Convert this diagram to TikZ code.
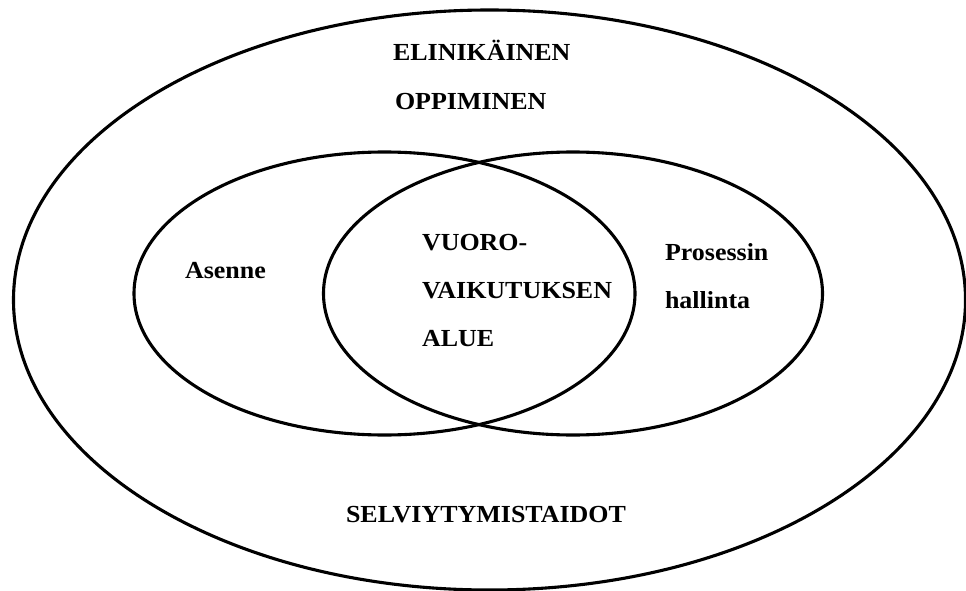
\documentclass[tikz,border=0pt]{standalone}
\usepackage{fontspec}
\newfontfamily\labfont[FakeStretch=1.06]{Liberation Serif}
\begin{document}
\begin{tikzpicture}[x=1pt,y=-1pt,
  ring/.style={draw=black,line width=3.1pt},
  lbl/.style={anchor=base west,inner sep=0pt,outer sep=0pt,
    font=\labfont\bfseries\fontsize{24.5}{28}\selectfont}]
\useasboundingbox (0,0) rectangle (966,591);
% outer field and the two overlapping areas
\draw[ring] (489.5,300) ellipse [x radius=476pt, y radius=290pt];
\draw[ring] (384.5,293.5) ellipse [x radius=250.5pt, y radius=141.5pt];
\draw[ring] (573,293.5) ellipse [x radius=249.5pt, y radius=141.5pt];
% labels
\node[lbl] (eli) at (393,61) {ELINIKÄINEN};
\node[lbl] (opp) at (395,110) {OPPIMINEN};
\node[lbl] (ase) at (185,278) {Asenne};
\node[lbl] (vu1) at (422,250) {VUORO-};
\node[lbl] (vu2) at (422,298) {VAIKUTUKSEN};
\node[lbl] (vu3) at (422,346) {ALUE};
\node[lbl] (pro) at (665,260) {Prosessin};
\node[lbl] (hal) at (665,308) {hallinta};
\node[lbl] (sel) at (346,522) {SELVIYTYMISTAIDOT};
\end{tikzpicture}
\end{document}
